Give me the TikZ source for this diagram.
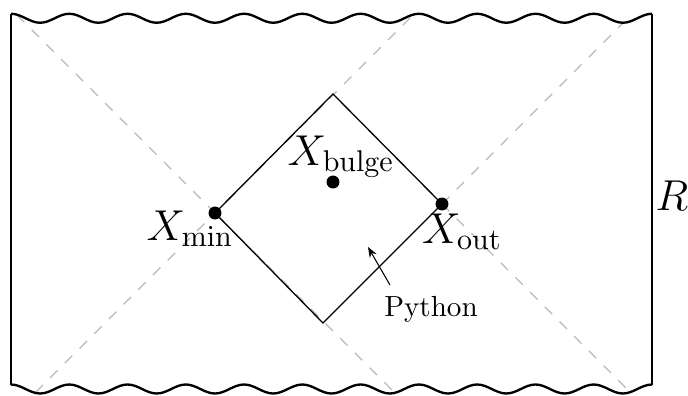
\documentclass[tikz,border=0pt]{standalone}
\usetikzlibrary{arrows.meta}
\begin{document}
\begin{tikzpicture}[x=0.385pt,y=-0.385pt,
  wall/.style={line width=0.9pt, line join=round},
  horizon/.style={gray!55, line width=0.5pt, dash pattern=on 4pt off 4pt},
  edgeline/.style={line width=0.5pt},
  dotnode/.style={circle, fill=black, inner sep=0pt, minimum size=5pt},
  lbl/.style={anchor=base, inner sep=0pt, font=\Large, scale=1.155},
  wave/.style={out=0, in=180, distance=4.08pt},
]
\useasboundingbox (0,0) rectangle (688,396);
% corners of the region
\coordinate (tl) at (11,13.75);
\coordinate (bl) at (11,384.5);
\coordinate (tr) at (652,13.75);
\coordinate (br) at (652,384.5);
% points
\coordinate (pmin) at (215,213);
\coordinate (pout) at (442,204);
\coordinate (pbulge) at (333,182);
\coordinate (dtop) at (333,94);
\coordinate (dbot) at (323,323);
% horizon end points
\coordinate (a1) at (17,15);
\coordinate (a2) at (394,392);
\coordinate (b1) at (35.5,392.5);
\coordinate (b2) at (413,15);
\coordinate (c2) at (624,22);
\coordinate (d2) at (630,392);
% dashed horizons
\draw[horizon] (a1) -- (a2);
\draw[horizon] (b1) -- (b2);
\draw[horizon] (pout) -- (c2);
\draw[horizon] (pout) -- (d2);
% diamond
\draw[edgeline] (pmin) -- (dtop) -- (pout) -- (dbot) -- cycle;
% walls
\draw[wall] (tl) -- (bl);
\draw[wall] (tr) -- (br);
\draw[wall] (tl) \foreach \i in {1,...,11} { to[wave] ++(29.136,9) to[wave] ++(29.136,-9) };
\draw[wall] (bl) \foreach \i in {1,...,11} { to[wave] ++(29.136,9) to[wave] ++(29.136,-9) };
% dots
\node[dotnode] (xmin) at (pmin) {};
\node[dotnode] (xout) at (pout) {};
\node[dotnode] (xbulge) at (pbulge) {};
% labels
\node[lbl] (lbulge) at (341,165) {$X_{\mathrm{bulge}}$};
\node[lbl] (lmin) at (190,240) {$X_{\mathrm{min}}$};
\node[lbl] (lout) at (462,243) {$X_{\mathrm{out}}$};
\node[lbl] (lR) at (672,210) {$R$};
\node[anchor=base, inner sep=0pt, scale=1.12] (py) at (431,316) {Python};
\coordinate (pytail) at (390,285);
\coordinate (pytip) at (368,247);
\draw[line width=0.4pt, -{Stealth[length=4pt, width=3pt]}] (pytail) -- (pytip);
\end{tikzpicture}
\end{document}
